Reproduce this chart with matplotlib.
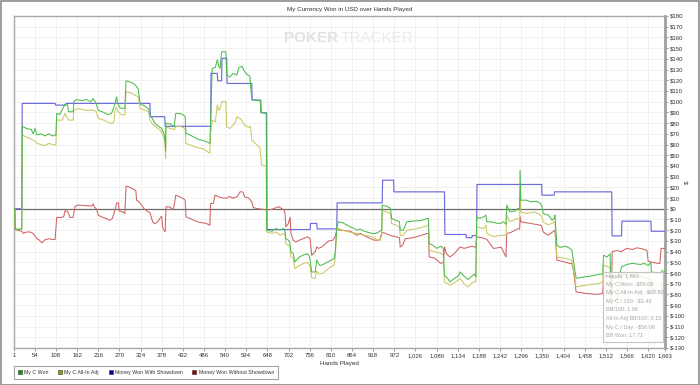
import matplotlib
matplotlib.use('Agg')
import matplotlib.pyplot as plt
from matplotlib.lines import Line2D
from matplotlib.patches import Rectangle
from matplotlib.ticker import FuncFormatter

plt.rcParams['font.family'] = ['Liberation Sans', 'DejaVu Sans']

title = "My Currency Won in USD over Hands Played"
series_names = ["My C Won", "My C All-In Adj", "Money Won With Showdown", "Money Won Without Showdown"]

green_hands = [1, 3, 4, 21, 22, 33, 45, 50, 55, 59, 70, 80, 90, 100, 108, 110, 118, 131, 138, 140, 152, 154, 160, 175, 185, 197, 203, 210, 216, 230, 240, 250, 259, 263, 266, 272, 284, 287, 300, 310, 318, 323, 335, 345, 348, 355, 360, 370, 378, 384, 387, 388, 389, 400, 410, 414, 425, 432, 438, 440, 450, 460, 470, 480, 490, 501, 503, 507, 515, 520, 524, 527, 531, 542, 544, 552, 560, 570, 575, 583, 590, 597, 603, 608, 620, 630, 631, 645, 646, 660, 670, 680, 690, 693, 695, 700, 705, 708, 714, 718, 722, 730, 740, 750, 755, 757, 761, 770, 774, 778, 782, 790, 800, 810, 818, 821, 825, 829, 840, 850, 860, 870, 876, 885, 895, 905, 915, 925, 935, 940, 941, 950, 958, 962, 965, 975, 985, 987, 995, 1004, 1020, 1040, 1055, 1059, 1061, 1070, 1080, 1090, 1097, 1100, 1108, 1114, 1125, 1135, 1140, 1150, 1160, 1170, 1176, 1180, 1182, 1190, 1200, 1206, 1208, 1220, 1235, 1245, 1250, 1257, 1259, 1267, 1280, 1288, 1292, 1293, 1295, 1310, 1320, 1335, 1345, 1348, 1352, 1365, 1375, 1380, 1382, 1387, 1395, 1410, 1420, 1425, 1429, 1436, 1450, 1470, 1485, 1495, 1504, 1506, 1515, 1523, 1524, 1535, 1545, 1552, 1565, 1580, 1600, 1610, 1620, 1627, 1628, 1645, 1653, 1655, 1663]
green_vals = [0, 0, -19, -19, 77, 75, 74, 70, 75, 69, 70, 68, 70, 68, 69, 89, 88, 97.5, 97, 90.6, 90.6, 100, 102, 101, 102, 100, 103, 99, 92, 90, 88, 89, 98, 104.6, 98, 94, 93.7, 119.5, 118, 116, 112, 98, 96, 93, 87.5, 84, 80, 77, 75, 70, 62, 54, 80, 79, 77, 89, 89, 88, 86, 70.4, 69, 67, 65, 64, 63, 61, 82, 131, 132, 139, 133, 131, 146.6, 146.6, 124.9, 123, 126.4, 125, 132, 133, 128, 125, 124, 102, 101, 101, 90, 89, -20, -21, -18.4, -20, -18.4, -21, -27.8, -29, -31, -40, -42, -49.6, -48, -45, -43, -42, -44, -48, -59, -59, -48, -51, -53, -52, -50, -48, -46.5, -41, -17, -12.2, -13, -15, -17, -18.4, -20, -19, -21, -22, -23, -23, -21, -20, 3.4, 2.5, 1.5, 0.3, -9, -10.7, -12, -20, -20, -12.2, -11.5, -11, -9.1, -9.1, -32.4, -34, -37, -35, -37, -62, -65, -68.3, -65, -63, -59, -63, -66, -63, -61, -63.6, -7.6, -9, -7.6, -6, -12.2, -12.2, -13.7, -13.5, -12, -14.5, 3.4, -2.9, -2, 0.3, -1, 36, 8, 8, 6.5, 7, 5, 3.4, -4.4, -6, -10.7, -9, -6, -34, -36, -35, -37, -38.7, -48, -65, -64, -63, -62, -61, -61, -43.4, -45, -42, -63.6, -65, -64, -54.3, -52, -51, -52, -51, -53, -50, -59, -60, -60, -58, -58.08]

yellow_hands = [1, 3, 4, 21, 22, 33, 45, 55, 60, 70, 80, 90, 100, 108, 110, 125, 131, 140, 152, 154, 165, 185, 203, 210, 216, 230, 240, 250, 256, 259, 263, 266, 275, 284, 287, 300, 310, 318, 323, 335, 345, 348, 355, 365, 375, 384, 387, 388, 389, 400, 410, 414, 425, 438, 440, 455, 470, 485, 501, 503, 507, 515, 520, 524, 527, 531, 542, 544, 552, 565, 570, 580, 590, 600, 605, 608, 620, 629, 633, 645, 646, 660, 670, 680, 690, 693, 695, 705, 708, 714, 718, 725, 740, 750, 757, 761, 770, 774, 780, 790, 800, 810, 818, 821, 825, 829, 840, 860, 876, 895, 915, 930, 935, 940, 941, 950, 962, 965, 975, 985, 987, 995, 1004, 1030, 1050, 1059, 1061, 1075, 1090, 1097, 1100, 1114, 1130, 1140, 1150, 1160, 1170, 1180, 1182, 1200, 1206, 1208, 1225, 1245, 1257, 1259, 1267, 1285, 1292, 1293, 1295, 1310, 1330, 1345, 1348, 1352, 1365, 1382, 1387, 1410, 1425, 1429, 1436, 1460, 1490, 1504, 1506, 1523, 1524, 1540, 1552, 1570, 1600, 1620, 1625, 1627, 1640, 1650, 1653, 1655, 1663]
yellow_vals = [0, 0, -19, -19, 68.8, 67, 65, 63, 61, 60, 59, 61, 60, 59.4, 82.8, 82.8, 89, 82.8, 82.8, 92.1, 93.5, 92, 92, 91, 84.4, 82.8, 81, 79.5, 81, 92, 95.2, 91, 88, 87.5, 109.3, 108, 106, 104.5, 93.7, 92, 90.6, 82.8, 79, 76, 73, 67, 58, 47, 76.5, 75, 74, 76.5, 77, 75, 61, 59, 57, 56, 51.7, 70, 82.8, 81, 96.8, 92, 93, 100, 100, 76.5, 75, 80, 85.9, 84, 78, 76, 77, 64.1, 60, 57, 41, 40, -21.6, -23, -21.6, -24.7, -23, -25, -32.4, -35, -45, -46, -55.8, -54, -51, -50, -54, -64.2, -65, -58, -61, -60, -57, -54, -52.5, -46.5, -19.4, -18.4, -20, -22, -23, -24.7, -26, -29.3, -29.3, -25, -1.3, -2.5, -4.5, -13.7, -15, -17, -24.7, -24.7, -20, -18.5, -16.5, -15.3, -38.7, -40, -41.5, -43, -68.3, -71.4, -68, -65, -70, -73, -69, -68, -16.9, -18.4, -15.3, -23.1, -26, -24.7, -24.7, -6, -12.2, -9, -10.7, 10, -2.9, -4.4, -2.9, -6, -7, -12.2, -15, -12.2, -45, -46.5, -48, -55.8, -73, -71.4, -70, -68.5, -52.7, -55, -85, -86, -60.5, -62, -63, -65, -66, -74, -76, -77, -80, -69, -68.83]

blue_hands = [1, 21, 22, 106, 107, 133, 134, 348, 349, 386, 387, 503, 504, 520, 521, 531, 532, 544, 545, 608, 609, 631, 632, 646, 647, 757, 758, 774, 775, 825, 826, 941, 942, 970, 971, 1100, 1101, 1155, 1156, 1170, 1171, 1182, 1183, 1348, 1349, 1380, 1381, 1527, 1528, 1552, 1553, 1627, 1628, 1663]
blue_vals = [0, 0, 98.4, 98.4, 96.8, 96.8, 98.4, 98.4, 86, 86, 77, 77, 126.4, 126.4, 119.5, 119.5, 140.5, 140.5, 117, 117, 101.5, 101.5, 89.6, 89.6, -19.4, -19.4, -13.7, -13.7, -18.8, -18.8, 5.5, 5.5, 26.7, 26.7, 15.8, 15.8, -24, -24, -27, -27, -25, -25, 22.7, 22.7, 12.7, 12.7, 15.8, 15.8, -25.3, -25.3, -11.6, -11.6, -21, -21]

red_hands = [1, 3, 4, 21, 25, 30, 40, 50, 59, 65, 72, 80, 90, 100, 106, 110, 120, 128, 131, 138, 144, 152, 157, 165, 180, 195, 200, 203, 207, 212, 216, 225, 235, 246, 252, 259, 263, 268, 269, 278, 284, 287, 297, 305, 312, 314, 320, 327, 333, 340, 348, 355, 360, 368, 375, 378, 381, 387, 389, 398, 408, 414, 425, 433, 438, 440, 450, 460, 470, 480, 490, 501, 503, 510, 514, 525, 535, 545, 550, 560, 570, 578, 585, 590, 600, 608, 612, 625, 646, 660, 676, 690, 693, 695, 701, 706, 708, 714, 720, 730, 740, 750, 757, 761, 770, 774, 778, 785, 795, 805, 815, 821, 825, 835, 860, 876, 885, 900, 920, 935, 940, 950, 962, 975, 985, 987, 993, 1000, 1004, 1020, 1040, 1055, 1059, 1061, 1075, 1090, 1097, 1100, 1105, 1114, 1125, 1140, 1150, 1160, 1170, 1180, 1182, 1195, 1208, 1225, 1245, 1257, 1259, 1270, 1280, 1288, 1292, 1293, 1295, 1320, 1345, 1348, 1352, 1365, 1375, 1382, 1387, 1400, 1420, 1425, 1429, 1436, 1460, 1490, 1504, 1506, 1523, 1524, 1527, 1528, 1540, 1552, 1565, 1580, 1590, 1600, 1610, 1617, 1620, 1630, 1645, 1650, 1653, 1663]
red_vals = [0, 0, -19.4, -21, -23.1, -22, -21.5, -23, -27.8, -29, -31.8, -29, -28, -28.7, -28.7, -8.1, -8.1, -7.5, -1.9, -2.5, -8.1, -8.1, 2.4, 3.5, 3, 2.8, 2.6, 4.5, 1.5, -0.5, -6, -7.6, -9, -10.7, -9, -1, 5.5, 5.5, -1.9, -2.8, -4.4, 21.1, 20, 18.5, 17, 8, 6.5, 3.5, 0, -2, -3.5, -12.2, -14, -12.2, -8, -7, -18.4, -21.6, 1.8, 1.8, -1, 12.7, 11, 9.6, 8, -7.6, -9, -10.7, -12.2, -13, -13.5, -15.3, 4.9, 5, 12.7, 11, 10, 10, 11.5, 10, 11, 15.8, 15.8, 11, 10, 6.5, 1, 0, -1, -0.5, 2, -1, -4.4, -16.9, -14, -8, -23.1, -29.3, -31, -29.3, -27.8, -26.2, -27.8, -43.4, -40, -35.6, -37, -36, -33, -30, -29.3, -26, -19.4, -20, -21, -24.7, -23, -26, -29.3, -29.3, -22, -23, -25, -26, -27, -35.6, -34, -27.8, -27.8, -27, -25, -23.1, -23.1, -45, -46, -51, -50, -35.6, -42, -45, -42, -35.6, -37, -36, -35, -36, -26.2, -27, -28.5, -37, -36, -45, -23.1, -22, -20, -18.5, -19, -7.6, -12.2, -13.7, -15.3, -16, -21.6, -24.7, -22, -20, -48, -49, -51, -51, -57, -77.6, -79, -80, -79, -62, -63, -80, -80, -40, -39, -40, -37, -38, -36.5, -37, -38, -39, -49, -50, -51, -51, -37, -37]

x_ticks = [1] + list(range(54, 1663, 54)) + [1663]
y_ticks = list(range(-130, 181, 10))

tooltip_lines = ["Hands: 1,663", "My C Won: -$58.08", "My C All-In Adj: -$68.83", "My C / 100: -$3.49",
                 "BB/100: 1.06", "All-In Adj BB/100: 0.15", "My C / Day: -$58.08", "BB Won: 17.71"]

W, H = 700, 385
fig = plt.figure(figsize=(7, 3.85), dpi=100)
fig.patch.set_facecolor('white')
fig.add_artist(Rectangle((0.5 / W, 0.5 / H), 1 - 1.5 / W, 1 - 1.5 / H, transform=fig.transFigure,
                         fill=False, edgecolor='#8c8c8c', linewidth=1.2))

ax = fig.add_axes([14 / W, 1 - 348 / H, (665 - 14) / W, (348 - 16) / H])
ax.set_xlim(1, 1663)
ax.set_ylim(-130, 180)

# watermark
ax.text(0.4985, 0.935, "POKER", transform=ax.transAxes, ha='right', va='center',
        fontsize=11, fontweight='bold', color='#e2e2e2', family='Liberation Sans')
ax.text(0.5015, 0.935, "TRACKER", transform=ax.transAxes, ha='left', va='center',
        fontsize=11, color='#ebebeb', family='Liberation Sans')

ax.set_xticks(x_ticks)
ax.set_yticks(y_ticks)
ax.xaxis.set_major_formatter(FuncFormatter(lambda v, p: f"{int(v):,}"))
ax.yaxis.set_major_formatter(FuncFormatter(lambda v, p: f"${int(v)}"))
ax.yaxis.tick_right()
ax.tick_params(axis='both', labelsize=4.3, length=2, width=0.6, pad=1.5,
               colors='#888888', labelcolor='#333333')
ax.grid(True, color='#efefef', linewidth=0.6)
ax.set_axisbelow(True)
for s in ['left', 'top', 'bottom']:
    ax.spines[s].set_color('#a8a8a8')
    ax.spines[s].set_linewidth(1.0)
ax.spines['right'].set_color('#a0a0a0')
ax.spines['right'].set_linewidth(2.0)

ax.axhline(0, color='#6a6a6a', linewidth=0.9, zorder=2)

ax.plot(blue_hands, blue_vals, color='#6b6bdc', linewidth=0.85, zorder=3)
ax.plot(red_hands, red_vals, color='#cf6262', linewidth=0.75, zorder=4)
ax.plot(yellow_hands, yellow_vals, color='#c9c862', linewidth=0.75, zorder=5)
ax.plot(green_hands, green_vals, color='#4dbb4d', linewidth=0.75, zorder=6)

ax.set_xlabel("Hands Played", fontsize=4.5, color='#333333', labelpad=2)
fig.text(687 / W, 1 - 182 / H, "$", ha='center', va='center', rotation=90,
         fontsize=4.5, color='#333333')

fig.text(0.5, 1 - 9 / H, title, ha='center', va='center', fontsize=4.5, color='#333333')

# tooltip box
fig.add_artist(Rectangle((603 / W, 1 - 342 / H), 60 / W, 70 / H, transform=fig.transFigure,
                         facecolor='white', alpha=0.75, edgecolor='none', zorder=10))
fig.add_artist(Rectangle((603 / W, 1 - 342 / H), 60 / W, 70 / H, transform=fig.transFigure,
                         fill=False, edgecolor='#c4c4c4', linewidth=0.8, zorder=11))
for i, line in enumerate(tooltip_lines):
    fig.text(606 / W, 1 - (275.5 + i * 8.6) / H, line, ha='left', va='center',
             fontsize=4, color='#a6a6a6', zorder=12)

handle_colors = ['#119911', '#999900', '#000099', '#990000']
handles = [Line2D([], [], linestyle='none', marker='s', markersize=3.0, markerfacecolor=c,
                  markeredgecolor='#333333', markeredgewidth=0.4) for c in handle_colors]
leg = fig.legend(handles, series_names, loc='lower left', bbox_to_anchor=(14 / W, 1 - 379 / H),
                 ncol=4, fontsize=3.8, frameon=True, fancybox=False, handlelength=0.6,
                 handletextpad=0.5, columnspacing=1.9, borderpad=0.8, borderaxespad=0)
leg.get_frame().set_edgecolor('#8c8c8c')
leg.get_frame().set_linewidth(0.8)
for t in leg.get_texts():
    t.set_color('#333333')

fig.savefig('out.png', dpi=100)
